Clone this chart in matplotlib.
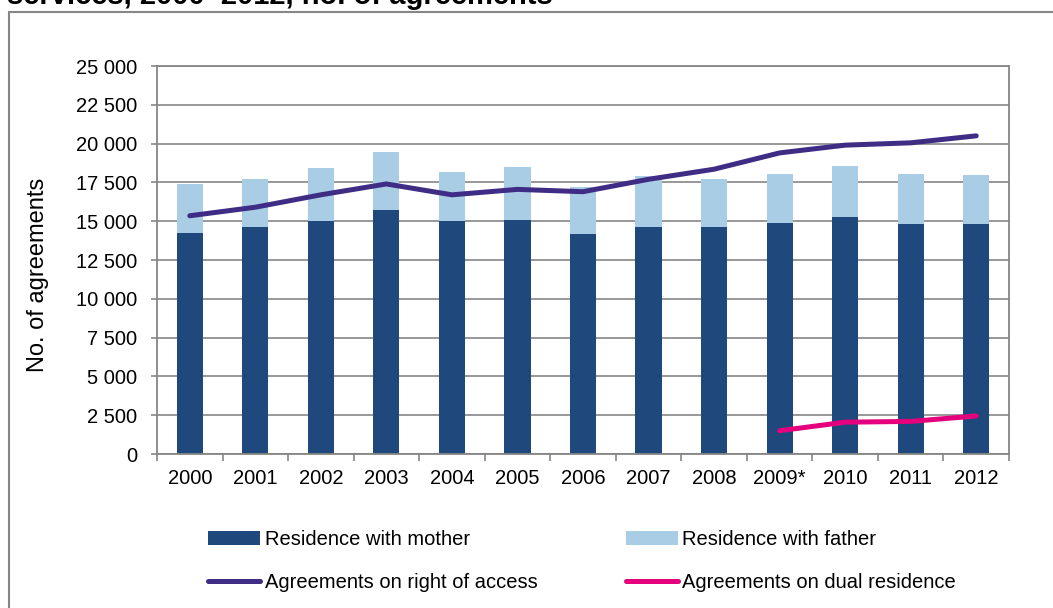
import matplotlib.pyplot as plt
import numpy as np
from matplotlib import rcParams
from matplotlib.patches import Rectangle
from matplotlib.ticker import FuncFormatter

rcParams['font.family'] = ['Liberation Sans', 'DejaVu Sans']
rcParams['font.size'] = 14.5

years = ['2000', '2001', '2002', '2003', '2004', '2005', '2006',
         '2007', '2008', '2009*', '2010', '2011', '2012']
mother = [14250, 14600, 15000, 15750, 15000, 15100, 14200,
          14650, 14650, 14900, 15300, 14800, 14800]
father = [3150, 3100, 3400, 3700, 3200, 3400, 3000,
          3250, 3050, 3150, 3250, 3250, 3150]
access = [15350, 15900, 16700, 17400, 16700, 17050, 16900,
          17700, 18350, 19400, 19900, 20050, 20500]
dual_years = ['2009*', '2010', '2011', '2012']
dual = [1500, 2050, 2100, 2450]

dark = '#1f497d'
light = '#a9cde4'
purple = '#3f2c85'
pink = '#e5007d'
grey = '#868686'

fig = plt.figure(figsize=(10.53, 6.08), dpi=100)
ax = fig.add_axes([157/1053, 1-454/608, 852/1053, 388/608])

x = np.arange(len(years))
b1 = ax.bar(x, mother, width=0.4, color=dark, label='Residence with mother', zorder=2)
b2 = ax.bar(x, father, width=0.4, bottom=mother, color=light, label='Residence with father', zorder=2)
l1, = ax.plot(x, access, color=purple, lw=3.6, solid_capstyle='round',
              label='Agreements on right of access', zorder=3)
xd = [years.index(y) for y in dual_years]
l2, = ax.plot(xd, dual, color=pink, lw=3.6, solid_capstyle='round',
              label='Agreements on dual residence', zorder=3)

ax.set_xlim(-0.5, len(years) - 0.5)
ax.set_ylim(0, 25000)
ax.set_yticks(np.arange(0, 25001, 2500))
ax.yaxis.set_major_formatter(FuncFormatter(lambda v, p: f'{int(v):,}'.replace(',', ' ')))
ax.set_xticks(x)
ax.set_xticklabels(years)
ax.set_xticks(np.arange(-0.5, len(years), 1), minor=True)
ax.tick_params(axis='x', which='major', length=0, pad=11)
ax.tick_params(axis='x', which='minor', length=5, color=grey, width=1.2)
ax.tick_params(axis='y', length=4, color=grey, width=1.2, pad=10)
ax.grid(axis='y', color=grey, lw=1.2, zorder=0)
ax.set_axisbelow(True)
for s in ax.spines.values():
    s.set_color(grey)
    s.set_linewidth(1.3)

fig.text(38/1053, 1-275/608, 'No. of agreements', rotation=90,
         ha='center', va='center', fontsize=17)

# title is cut off at the top in the original
fig.text(7/1053, 1-4/608, 'services, 2000\u20132012, no. of agreements',
         fontsize=21, fontweight='bold', ha='left', va='baseline')

fig.patches.append(Rectangle((9/1053, -0.1), 1.2, 1-12/608+0.1,
                             transform=fig.transFigure, fill=False,
                             edgecolor=grey, lw=1.5))

# ncol=2 fills by column, so order handles to get rows mother/father, access/dual
handles = [b1, l1, b2, l2]
fig.legend(handles, [h.get_label() for h in handles],
           loc='upper left', bbox_to_anchor=(190/1053, 1-512/608), ncol=2,
           frameon=False, handlelength=2.6, handletextpad=0.2,
           columnspacing=4.4, labelspacing=1.2, fontsize=14.5)

fig.savefig('out.png', dpi=100)
